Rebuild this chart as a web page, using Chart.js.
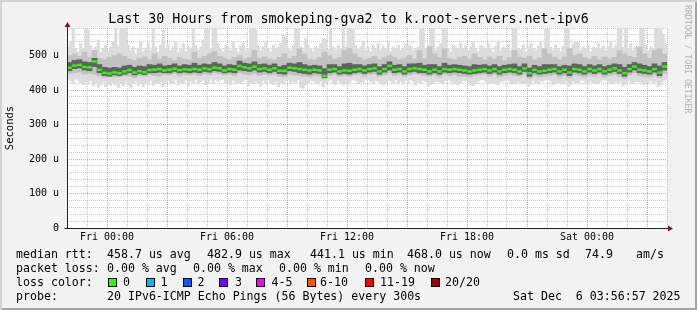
<!DOCTYPE html>
<html>
<head>
<meta charset="utf-8">
<script src="https://cdn.jsdelivr.net/npm/chart.js@4.4.1/dist/chart.umd.min.js"></script>
<style>
  html, body { margin: 0; padding: 0; background: #f2f2f2; }
  #frame { position: relative; width: 697px; height: 310px; overflow: hidden; background: #f2f2f2;
    font-family: 'DejaVu Sans Mono', monospace; color: #000; }
  #frame canvas { position: absolute; left: 0; top: 0; }
  #edge { position: absolute; left: 0; top: 0; width: 697px; height: 310px; pointer-events: none;
    box-shadow: inset 2px 2px 0 #d2d2d2, inset -2px -2px 0 #a3a3a3; }
  .t { position: absolute; white-space: pre; font-size: 11.6px; line-height: 14px; }
  #title { position: absolute; left: 0; width: 697px; top: 11px; text-align: center; font-size: 13.3px;
    line-height: 16px; white-space: pre; }
  #brand { position: absolute; left: 683px; top: 5px; writing-mode: vertical-rl; font-size: 8.2px;
    line-height: 10px; color: #b0b0b0; white-space: pre; }
  .box { position: absolute; width: 7px; height: 7px; border: 1px solid #000; }
</style>
</head>
<body>
<div id="frame">
  <canvas id="c" width="697" height="310"></canvas>
  <div id="title">Last 30 Hours from smokeping-gva2 to k.root-servers.net-ipv6</div>
  <div id="brand">RRDTOOL / TOBI OETIKER</div>
  <div id="legend"></div>
  <div id="edge"></div>
</div>
<script>
// hours relative to Fri 00:00; the graph runs from Thu 22:00 (-2) to Sat 04:00 (28)
const binStart = -2;
const binHours = 0.25;      // median, inner and middle smoke: 15 min bins
const fineBinHours = 0.125; // outer smoke: 7.5 min bins

// median rtt, microseconds
const med = [
  465, 471, 473, 467, 466, 483, 459, 450, 448, 451,
  449, 454, 458, 451, 455, 452, 458, 459, 461, 457,
  459, 462, 458, 460, 459, 461, 459, 463, 460, 465,
  463, 457, 461, 459, 470, 466, 463, 468, 461, 463,
  459, 463, 456, 456, 465, 463, 461, 459, 457, 459,
  457, 441, 459, 461, 454, 457, 456, 459, 461, 457,
  461, 463, 454, 461, 470, 459, 461, 454, 461, 463,
  461, 459, 454, 459, 454, 461, 459, 461, 459, 457,
  454, 457, 459, 461, 457, 461, 454, 459, 461, 459,
  454, 463, 449, 459, 454, 456, 459, 461, 454, 459,
  451, 461, 459, 454, 461, 457, 461, 454, 459, 463,
  457, 449, 461, 468, 459, 457, 454, 461, 451, 468
];
// inner smoke (dark)
const lo1 = [
  456, 462, 464, 458, 456, 468, 450, 442, 440, 444,
  442, 446, 450, 444, 448, 445, 450, 450, 452, 450,
  450, 454, 450, 452, 450, 452, 450, 454, 452, 456,
  454, 450, 452, 450, 458, 456, 454, 458, 452, 454,
  450, 454, 448, 446, 456, 454, 450, 448, 446, 450,
  448, 436, 450, 452, 446, 448, 446, 450, 452, 448,
  452, 454, 446, 452, 458, 450, 452, 446, 452, 454,
  450, 450, 446, 450, 446, 452, 450, 452, 450, 448,
  446, 448, 450, 452, 448, 452, 446, 450, 452, 450,
  446, 454, 440, 450, 446, 448, 450, 452, 446, 450,
  442, 452, 450, 446, 452, 448, 452, 446, 450, 454,
  448, 440, 452, 458, 450, 448, 446, 452, 442, 458
];
const hi1 = [
  480, 486, 488, 482, 480, 492, 474, 466, 464, 466,
  464, 470, 472, 466, 470, 468, 474, 472, 476, 470,
  472, 476, 470, 474, 472, 478, 472, 476, 474, 480,
  476, 470, 474, 472, 484, 478, 476, 482, 474, 476,
  472, 476, 468, 472, 478, 476, 480, 474, 470, 472,
  470, 462, 474, 474, 468, 476, 478, 474, 474, 470,
  474, 476, 468, 474, 482, 472, 474, 468, 476, 476,
  478, 472, 474, 474, 468, 478, 472, 474, 472, 470,
  468, 474, 472, 474, 470, 474, 468, 472, 474, 476,
  468, 476, 464, 472, 468, 474, 474, 474, 468, 472,
  470, 476, 474, 468, 474, 470, 474, 468, 472, 476,
  474, 466, 474, 480, 476, 472, 468, 476, 470, 480
];
// middle smoke
const lo2 = [
  448, 450, 452, 446, 448, 445, 440, 436, 440, 438,
  438, 442, 440, 436, 442, 440, 445, 442, 440, 446,
  444, 448, 442, 446, 444, 446, 442, 448, 444, 450,
  448, 444, 446, 442, 450, 446, 444, 448, 442, 446,
  444, 446, 440, 438, 446, 444, 442, 440, 438, 442,
  440, 432, 442, 446, 440, 442, 440, 444, 446, 440,
  446, 448, 440, 444, 450, 442, 446, 440, 444, 448,
  446, 442, 440, 444, 438, 446, 442, 444, 440, 440,
  438, 442, 444, 446, 440, 446, 438, 442, 446, 442,
  440, 446, 434, 442, 438, 440, 442, 446, 438, 442,
  436, 444, 442, 438, 444, 440, 446, 438, 442, 446,
  440, 434, 444, 450, 442, 440, 438, 444, 436, 448
];
const hi2 = [
  500, 505, 498, 510, 495, 515, 492, 488, 495, 500,
  505, 498, 490, 486, 492, 496, 488, 505, 490, 498,
  492, 486, 495, 490, 488, 510, 492, 498, 505, 512,
  498, 492, 488, 495, 500, 490, 495, 515, 492, 496,
  490, 488, 495, 505, 492, 498, 520, 505, 490, 488,
  495, 510, 500, 490, 494, 515, 520, 505, 495, 488,
  492, 498, 488, 494, 500, 495, 488, 492, 500, 490,
  515, 490, 525, 505, 495, 520, 492, 488, 495, 498,
  490, 505, 495, 488, 496, 490, 498, 486, 494, 515,
  496, 492, 498, 488, 494, 520, 505, 495, 488, 496,
  520, 500, 505, 494, 490, 498, 488, 496, 490, 495,
  515, 505, 498, 494, 525, 505, 492, 515, 520, 505
];
// outer smoke (light), finer bins
const lo3 = [
  430, 425, 418, 432, 428, 420, 415, 425, 418, 428, 412, 420, 408, 415, 425, 410, 418, 412, 422, 415,
  408, 418, 412, 425, 415, 405, 420, 426, 412, 418, 410, 422, 415, 428, 412, 420, 418, 425, 410, 422,
  428, 418, 420, 430, 415, 422, 418, 428, 412, 425, 420, 430, 418, 425, 428, 415, 420, 432, 418, 430,
  425, 430, 432, 420, 418, 415, 428, 420, 422, 418, 425, 430, 412, 420, 418, 425, 420, 412, 428, 420,
  428, 420, 415, 425, 410, 418, 420, 425, 430, 418, 425, 420, 430, 408, 405, 415, 420, 428, 426, 420,
  418, 425, 410, 420, 425, 430, 420, 415, 428, 420, 415, 420, 420, 425, 430, 428, 418, 422, 425, 430,
  430, 425, 420, 428, 425, 418, 415, 420, 428, 425, 420, 430, 418, 425, 420, 428, 418, 430, 425, 415,
  422, 418, 428, 425, 410, 415, 420, 425, 425, 420, 418, 428, 430, 425, 422, 418, 415, 420, 428, 425,
  420, 415, 412, 420, 425, 430, 430, 425, 418, 420, 422, 418, 415, 425, 425, 428, 428, 420, 420, 418,
  425, 420, 418, 422, 410, 415, 428, 420, 420, 425, 425, 430, 430, 425, 415, 420, 422, 418, 418, 425,
  410, 415, 425, 420, 420, 428, 428, 420, 415, 425, 422, 418, 418, 425, 430, 428, 425, 420, 420, 425,
  418, 425, 412, 418, 428, 420, 420, 425, 425, 418, 415, 420, 422, 428, 418, 425, 410, 415, 425, 430
];
const hi3 = [
  525, 540, 580, 520, 510, 535, 518, 580, 575, 530, 515, 525, 545, 510, 520, 530, 512, 525, 540, 580,
  528, 580, 578, 580, 530, 515, 525, 505, 520, 540, 512, 522, 535, 515, 580, 525, 510, 530, 575, 520,
  530, 515, 525, 540, 510, 520, 535, 512, 528, 518, 580, 530, 515, 525, 545, 580, 576, 520, 580, 578,
  535, 520, 512, 530, 525, 515, 540, 520, 510, 528, 535, 515, 520, 580, 580, 575, 530, 515, 525, 540,
  520, 512, 530, 518, 525, 535, 560, 555, 520, 515, 530, 580, 578, 525, 515, 550, 530, 520, 512, 528,
  520, 535, 550, 548, 518, 580, 525, 515, 530, 520, 580, 525, 580, 578, 575, 530, 518, 525, 540, 515,
  525, 512, 530, 520, 535, 515, 528, 520, 540, 512, 525, 518, 530, 515, 522, 535, 530, 528, 515, 520,
  525, 580, 576, 520, 530, 580, 578, 515, 525, 535, 580, 575, 520, 512, 530, 525, 518, 535, 520, 528,
  515, 525, 540, 520, 512, 530, 525, 518, 535, 520, 510, 528, 540, 515, 525, 520, 532, 515, 580, 578,
  520, 518, 530, 512, 525, 535, 520, 515, 528, 540, 520, 580, 576, 525, 515, 530, 520, 512, 528, 580,
  578, 520, 535, 540, 538, 515, 525, 520, 530, 512, 525, 518, 535, 520, 528, 515, 525, 540, 520, 530,
  580, 578, 525, 580, 520, 535, 515, 528, 520, 580, 578, 530, 515, 525, 520, 580, 580, 576, 560, 535
];

const yTickValues = [0, 100, 200, 300, 400, 500];
const yTickLabels = ['0', '100 u', '200 u', '300 u', '400 u', '500 u'];
const xTickHours = [0, 6, 12, 18, 24];
const xTickLabels = ['Fri 00:00', 'Fri 06:00', 'Fri 12:00', 'Fri 18:00', 'Sat 00:00'];

const lossLabels = ['0', '1', '2', '3', '4-5', '6-10', '11-19', '20/20'];
const lossColors = ['#26ff00', '#00b8ff', '#0059ff', '#7e00ff', '#ff00ff', '#ff5500', '#ff0000', '#a10000'];

const statLines = [
  [['median rtt:', 16], ['458.7 us avg', 107], ['482.9 us max', 207], ['441.1 us min', 310],
   ['468.0 us now', 407], ['0.0 ms sd', 507], ['74.9', 585], ['am/s', 636]],
  [['packet loss:', 16], ['0.00 % avg', 107], ['0.00 % max', 193], ['0.00 % min', 279], ['0.00 % now', 365]],
  [['loss color:', 16]],
  [['probe:', 16], ['20 IPv6-ICMP Echo Pings (56 Bytes) every 300s', 107], ['Sat Dec  6 03:56:57 2025', 513]]
];
const lossBoxX = [108, 145.5, 182.5, 219, 255.5, 307, 365, 431];
const lossTextX = [123, 160.5, 197.5, 235, 271.5, 320, 380, 445];

// ---- legend text below the graph
const legend = document.getElementById('legend');
function addText(txt, x, y) {
  const s = document.createElement('div');
  s.className = 't';
  s.textContent = txt;
  s.style.left = x + 'px';
  s.style.top = y + 'px';
  legend.appendChild(s);
}
statLines.forEach((line, row) => {
  line.forEach(([txt, x]) => addText(txt, x, 247 + row * 14));
});
lossLabels.forEach((lbl, i) => {
  const b = document.createElement('div');
  b.className = 'box';
  b.style.left = lossBoxX[i] + 'px';
  b.style.top = '278px';
  b.style.background = lossColors[i];
  legend.appendChild(b);
  addText(lbl, lossTextX[i], 275);
});

// ---- chart
const hours = med.map((_, i) => binStart + binHours * (i + 0.5));
const fineHours = hi3.map((_, j) => binStart + fineBinHours * (j + 0.5));
const band = (xs, lo, hi) => xs.map((h, i) => ({ x: h, y: [lo[i], hi[i]] }));

const MONO = 'DejaVu Sans Mono';
const canvasBg = {
  id: 'canvasBg',
  beforeDraw(chart) {
    const { ctx, chartArea: a } = chart;
    ctx.save();
    ctx.fillStyle = '#ffffff';
    ctx.fillRect(a.left, a.top, a.right - a.left, a.bottom - a.top);
    ctx.restore();
  }
};
const axesArrows = {
  id: 'axesArrows',
  afterDraw(chart) {
    const { ctx, chartArea: a } = chart;
    const x0 = Math.round(a.left) + 0.5, y0 = Math.round(a.bottom) + 0.5;
    ctx.save();
    ctx.strokeStyle = '#222';
    ctx.lineWidth = 1;
    ctx.beginPath();
    ctx.moveTo(x0, y0); ctx.lineTo(x0, a.top - 2);
    ctx.moveTo(x0 - 3, y0); ctx.lineTo(a.right + 2, y0);
    ctx.stroke();
    ctx.fillStyle = '#8e1414';
    ctx.beginPath();
    ctx.moveTo(x0 - 3, a.top - 1); ctx.lineTo(x0 + 3, a.top - 1); ctx.lineTo(x0, a.top - 6); ctx.closePath();
    ctx.fill();
    ctx.beginPath();
    ctx.moveTo(a.right + 1, y0 - 3); ctx.lineTo(a.right + 1, y0 + 3); ctx.lineTo(a.right + 6, y0); ctx.closePath();
    ctx.fill();
    ctx.restore();
  }
};

const barBase = { type: 'bar', grouped: false, borderWidth: 0 };

new Chart(document.getElementById('c'), {
  type: 'bar',
  data: {
    datasets: [
      { ...barBase, data: band(fineHours, lo3, hi3), backgroundColor: '#dcdcdc', barThickness: 2.5, order: 4 },
      { ...barBase, data: band(hours, lo2, hi2), backgroundColor: '#c2c2c2', barThickness: 5, order: 3 },
      { ...barBase, data: band(hours, lo1, hi1), backgroundColor: '#626262', barThickness: 5, order: 2 },
      {
        type: 'line', data: hours.map((h, i) => ({ x: h, y: med[i] })), showLine: false,
        pointStyle: 'line', pointRadius: 2.3, pointBorderWidth: 2.5,
        pointBorderColor: lossColors[0], pointBackgroundColor: lossColors[0], order: 1
      }
    ]
  },
  options: {
    responsive: false,
    animation: false,
    events: [],
    layout: { padding: { left: 0, top: 28, right: 30, bottom: 0 } },
    plugins: { legend: { display: false }, tooltip: { enabled: false }, title: { display: false } },
    scales: {
      x: {
        type: 'linear', min: -2, max: 28, offset: false, z: 1,
        afterFit(s) { s.height = 82; s.paddingLeft = 0; s.paddingRight = 0; },
        grid: {
          offset: false, drawTicks: false, lineWidth: 1,
          color: c => (c.tick && c.tick.value % 3 === 0) ? 'rgba(230,120,120,0.75)' : 'rgba(150,150,150,0.55)'
        },
        border: { display: false, dash: [1, 1] },
        ticks: {
          stepSize: 1, autoSkip: false, maxRotation: 0, padding: 3, color: '#000',
          font: { family: MONO, size: 10 },
          callback: v => { const k = xTickHours.indexOf(v); return k >= 0 ? xTickLabels[k] : ''; }
        }
      },
      y: {
        min: 0, max: 580, z: 1,
        afterFit(s) { s.width = 67; s.paddingTop = 0; s.paddingBottom = 0; },
        grid: {
          drawTicks: false, lineWidth: 1,
          color: c => (c.tick && c.tick.value % 100 === 0) ? 'rgba(230,120,120,0.75)' : 'rgba(150,150,150,0.55)'
        },
        border: { display: false, dash: [1, 1] },
        title: { display: true, text: 'Seconds', color: '#000', font: { family: MONO, size: 10.5 }, padding: { top: 4, bottom: 0 } },
        ticks: {
          stepSize: 20, autoSkip: false, padding: 8, color: '#000',
          font: { family: MONO, size: 10 },
          callback: v => { const k = yTickValues.indexOf(v); return k >= 0 ? yTickLabels[k] : ''; }
        }
      }
    }
  },
  plugins: [canvasBg, axesArrows]
});
</script>
</body>
</html>
